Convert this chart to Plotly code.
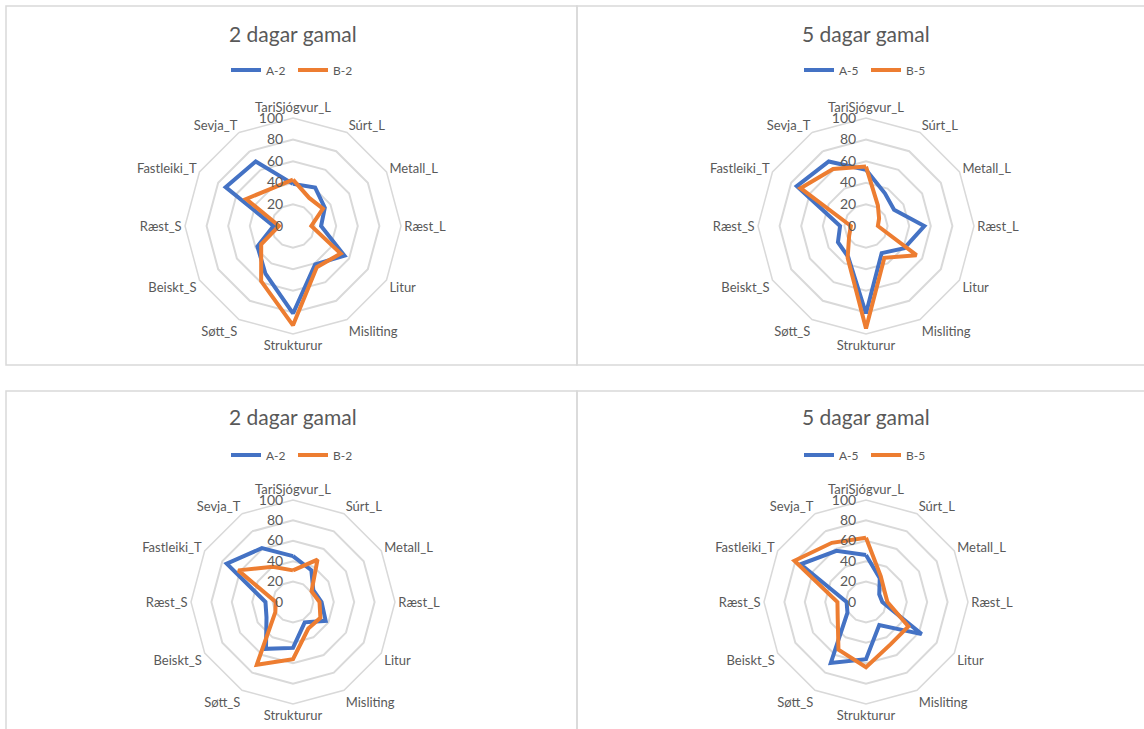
import plotly.graph_objects as go

# Sensory attributes on the radar spokes (clockwise from the top)
categories = ["TariSjógvur_L", "Súrt_L", "Metall_L", "Ræst_L", "Litur", "Misliting",
              "Strukturur", "Søtt_S", "Beiskt_S", "Ræst_S", "Fastleiki_T", "Sevja_T"]

# Panel 1: 2 days old
a2_top = [39, 41, 34, 26, 55, 41, 81, 51, 38, 18, 72, 69]
b2_top = [43, 30, 32, 17, 51, 44, 92, 59, 34, 13, 50, 40]
# Panel 2: 5 days old
a5_top = [52, 35, 30, 54, 41, 29, 81, 33, 30, 24, 74, 69]
b5_top = [55, 22, 14, 11, 54, 34, 95, 34, 18, 14, 70, 61]
# Panel 3: 2 days old
a2_bot = [45, 36, 23, 28, 37, 23, 45, 53, 30, 27, 75, 61]
b2_bot = [31, 48, 21, 26, 31, 30, 56, 71, 20, 17, 62, 40]
# Panel 4: 5 days old
a5_bot = [46, 27, 15, 16, 63, 26, 56, 69, 21, 19, 74, 58]
b5_bot = [63, 29, 21, 21, 48, 48, 64, 54, 32, 28, 81, 67]

titles = ["2 dagar gamal", "5 dagar gamal", "2 dagar gamal", "5 dagar gamal"]
series_names = [("A-2", "B-2"), ("A-5", "B-5"), ("A-2", "B-2"), ("A-5", "B-5")]
panel_data = [(a2_top, b2_top), (a5_top, b5_top), (a2_bot, b2_bot), (a5_bot, b5_bot)]

W, H = 1144, 729
BLUE, ORANGE = "#4472C4", "#ED7D31"
GRID = "#d9d9d9"
TEXT = "#595959"
FONT = "Lato, 'Open Sans', sans-serif"

# pixel layout of each panel: radar centre, radar radius, title y, legend y
panels = [
    dict(cx=293, cy=226, r=108, ty=33, ly=70),
    dict(cx=866, cy=226, r=108, ty=33, ly=70),
    dict(cx=293, cy=602, r=102, ty=417, ly=455),
    dict(cx=866, cy=602, r=102, ty=417, ly=455),
]


def px(x):
    return x / W


def py(y):
    return 1 - y / H


fig = go.Figure()
layout = {}
annotations = []
for i, (p, (a_vals, b_vals), (na, nb), title) in enumerate(
        zip(panels, panel_data, series_names, titles)):
    polar_id = "polar" if i == 0 else f"polar{i + 1}"
    legend_id = "legend" if i == 0 else f"legend{i + 1}"
    for vals, name, color in ((a_vals, na, BLUE), (b_vals, nb, ORANGE)):
        fig.add_trace(go.Scatterpolar(
            r=vals + vals[:1], theta=categories + categories[:1],
            mode="lines", name=name, line=dict(color=color, width=4),
            subplot=polar_id, legend=legend_id, hoverinfo="skip",
        ))
    layout[polar_id] = dict(
        domain=dict(x=[px(p["cx"] - p["r"]), px(p["cx"] + p["r"])],
                    y=[py(p["cy"] + p["r"]), py(p["cy"] - p["r"])]),
        gridshape="linear",
        bgcolor="white",
        angularaxis=dict(type="category", categoryarray=categories, rotation=90,
                         direction="clockwise", showgrid=False, showline=True,
                         linecolor=GRID, linewidth=1.5, ticks="",
                         tickfont=dict(family=FONT, size=13, color=TEXT)),
        radialaxis=dict(range=[0, 100], dtick=20, angle=90, tickangle=90,
                        showline=False, ticks="", gridcolor=GRID, gridwidth=1.5,
                        side="counterclockwise", ticksuffix="\u00a0\u00a0",
                        tickfont=dict(family=FONT, size=14, color=TEXT)),
    )
    layout[legend_id] = dict(
        orientation="h", x=px(p["cx"]), y=py(p["ly"]), xanchor="center",
        yanchor="middle", itemwidth=30, entrywidth=22, entrywidthmode="pixels",
        bgcolor="rgba(0,0,0,0)",
        font=dict(family=FONT, size=12, color=TEXT),
    )
    annotations.append(dict(
        text=title, x=px(p["cx"]), y=py(p["ty"]), xref="paper", yref="paper",
        xanchor="center", yanchor="middle", showarrow=False,
        font=dict(family=FONT, size=21, color=TEXT),
    ))

# chart-area frames
shapes = [
    dict(type="rect", xref="paper", yref="paper", x0=px(6), x1=px(577), y0=py(365), y1=py(6)),
    dict(type="rect", xref="paper", yref="paper", x0=px(577), x1=px(1150), y0=py(365), y1=py(6)),
    dict(type="rect", xref="paper", yref="paper", x0=px(6), x1=px(577), y0=py(740), y1=py(391)),
    dict(type="rect", xref="paper", yref="paper", x0=px(577), x1=px(1150), y0=py(740), y1=py(391)),
]
for s in shapes:
    s["line"] = dict(color=GRID, width=1.5)
    s["layer"] = "below"

fig.update_layout(
    width=W, height=H, margin=dict(l=0, r=0, t=0, b=0),
    paper_bgcolor="white", plot_bgcolor="white",
    annotations=annotations, shapes=shapes, showlegend=True,
    **layout,
)

fig.write_html("out.html", config={"displayModeBar": False})
